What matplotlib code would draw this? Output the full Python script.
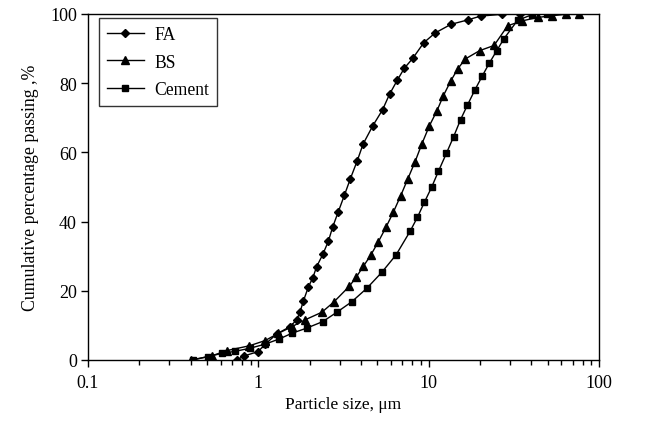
import numpy as np
import matplotlib
matplotlib.use("Agg")
import matplotlib.pyplot as plt
from matplotlib.ticker import LogLocator, FuncFormatter, NullFormatter

plt.rcParams['font.family'] = ['Liberation Serif', 'DejaVu Serif']

# Particle size distributions (size in um, cumulative passing in %)
fa_size = [0.746, 0.828, 0.995, 1.10, 1.28, 1.53, 1.68, 1.76, 1.84, 1.97, 2.09,
           2.20, 2.39, 2.58, 2.73, 2.94, 3.20, 3.47, 3.81, 4.12, 4.70, 5.36,
           5.89, 6.55, 7.19, 8.07, 9.36, 10.9, 13.5, 17.0, 20.2, 26.9, 34.2]
fa_pass = [0.0, 1.2, 2.4, 4.6, 7.5, 9.6, 11.6, 14.0, 17.1, 21.2, 23.8,
           27.0, 30.5, 34.4, 38.4, 42.7, 47.6, 52.4, 57.6, 62.4, 67.7, 72.3,
           76.8, 80.9, 84.3, 87.2, 91.7, 94.5, 97.0, 98.3, 99.4, 99.9, 100.0]

bs_size = [0.403, 0.533, 0.652, 0.885, 1.095, 1.31, 1.57, 1.88, 2.36, 2.78,
           3.42, 3.75, 4.14, 4.57, 5.07, 5.62, 6.20, 6.84, 7.52, 8.32, 9.11,
           10.1, 11.2, 12.2, 13.5, 14.8, 16.4, 19.9, 24.2, 29.1, 35.3, 43.6,
           52.8, 63.8, 76.7]
bs_pass = [0.0, 1.2, 2.7, 4.1, 5.6, 7.7, 9.6, 11.6, 13.8, 16.8,
           21.3, 23.9, 27.1, 30.3, 34.2, 38.4, 42.7, 47.4, 52.2, 57.3, 62.4,
           67.7, 72.1, 76.4, 80.7, 84.1, 87.0, 89.4, 90.9, 96.6, 98.0, 99.0,
           99.5, 99.9, 99.9]

cem_size = [0.412, 0.509, 0.610, 0.730, 0.894, 1.10, 1.33, 1.57, 1.92, 2.39,
            2.89, 3.53, 4.33, 5.30, 6.44, 7.78, 8.58, 9.44, 10.4, 11.4, 12.7,
            14.0, 15.4, 16.9, 18.7, 20.7, 22.7, 25.1, 27.7, 33.3, 40.5, 49.4]
cem_pass = [0.0, 1.0, 1.9, 2.5, 3.4, 4.6, 6.1, 7.7, 9.2, 11.1,
            13.8, 16.8, 20.7, 25.3, 30.4, 37.2, 41.2, 45.6, 49.9, 54.5, 59.7,
            64.5, 69.5, 73.7, 78.1, 82.2, 85.8, 89.4, 92.9, 98.2, 99.8, 100.0]

fig = plt.figure(figsize=(6.48, 4.27), dpi=100)
ax = fig.add_axes([0.1358, 0.1546, 0.7886, 0.8103])

ax.plot(fa_size, fa_pass, color='black', lw=1, marker='D', ms=4.3, label='FA')
ax.plot(bs_size, bs_pass, color='black', lw=1, marker='^', ms=6, label='BS')
ax.plot(cem_size, cem_pass, color='black', lw=1, marker='s', ms=5, label='Cement')

ax.set_xscale('log')
ax.set_xlim(0.1, 100)
ax.set_ylim(0, 100)
ax.set_yticks([0, 20, 40, 60, 80, 100])
ax.xaxis.set_major_locator(LogLocator(base=10))
ax.xaxis.set_minor_locator(LogLocator(base=10, subs=np.arange(2, 10)))
ax.xaxis.set_major_formatter(FuncFormatter(lambda v, p: '%g' % v))
ax.xaxis.set_minor_formatter(NullFormatter())

ax.tick_params(axis='both', which='major', direction='out', length=5, width=1,
               labelsize=13, colors='black', top=False, right=False)
ax.tick_params(axis='x', which='minor', direction='out', length=3.5, width=1, top=False)
ax.tick_params(axis='x', which='major', pad=5)
ax.tick_params(axis='y', which='major', pad=3)
for s in ax.spines.values():
    s.set_linewidth(1)
    s.set_color('black')

ax.set_xlabel('Particle size, μm', fontsize=12.5, labelpad=4)
ax.set_ylabel('Cumulative percentage passing ,%', fontsize=12.8, labelpad=8)

leg = ax.legend(loc='upper left', bbox_to_anchor=(0.021, 0.988), fontsize=12.7,
                frameon=True, fancybox=False, edgecolor='black', handlelength=2.1,
                labelspacing=0.6, borderpad=0.45, handletextpad=0.6, borderaxespad=0)
leg.get_frame().set_linewidth(1)

fig.savefig('out.png', dpi=100)
